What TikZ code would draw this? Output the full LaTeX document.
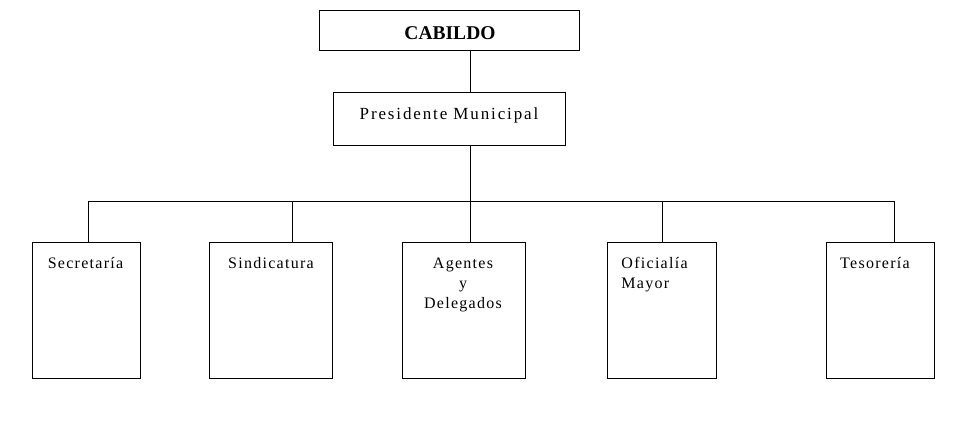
\documentclass[tikz,border=0pt]{standalone}
\usepackage{fontspec}
\setmainfont{Liberation Serif}[LetterSpace=8]
\usetikzlibrary{positioning}

\begin{document}
\begin{tikzpicture}[x=1pt, y=-1pt, line width=0.9pt,
	caja/.style={draw, inner sep=0pt, anchor=north west},
	rotulo/.style={inner sep=0pt, anchor=base, font=\fontsize{16}{20}\selectfont}]
					\useasboundingbox (0,0) rectangle (959,439);

					% arriba
					\node[caja, minimum width=260pt, minimum height=40pt] at (319,10) (cab) {};
					\node[caja, minimum width=232pt, minimum height=53pt] at (333,92) (pres) {};
					\node[inner sep=0pt, anchor=base, font=\fontsize{19.5}{20}\selectfont\bfseries\addfontfeature{LetterSpace=0}] at (450,39) (cabT) {CABILDO};
					\node[inner sep=0pt, anchor=base, font=\fontsize{17}{20}\selectfont\addfontfeature{LetterSpace=11}] at (449,119) (presT) {Presidente Municipal};

					% dependencias
					\node[caja, minimum width=108pt, minimum height=136pt] at (32,242) (secr) {};
					\node[caja, minimum width=123pt, minimum height=136pt] at (209,242) (sind) {};
					\node[caja, minimum width=123pt, minimum height=136pt] at (402,242) (agen) {};
					\node[caja, minimum width=109pt, minimum height=136pt] at (607,242) (ofic) {};
					\node[caja, minimum width=108pt, minimum height=136pt] at (826,242) (teso) {};

					\node[rotulo] at (85.5,268) (secrT) {Secretaría};
					\node[rotulo] at (271,268) (sindT) {Sindicatura};
					\node[rotulo, align=center] at (463,308) (agenT) {Agentes\\y\\Delegados};
					\node[rotulo, align=left, anchor=base west] at (621,288) (oficT) {Oficialía\\Mayor};
					\node[rotulo] at (875,268) (tesoT) {Tesorería};

					% lineas
					\coordinate (bus) at (470,201);
					\coordinate (busL) at (88,201);
					\coordinate (busR) at (894,201);
					\coordinate (dSind) at (292,201);
					\coordinate (dOfic) at (662,201);
					\draw (cab.south -| bus) -- (pres.north -| bus);
					\draw (pres.south -| bus) -- (bus);
					\draw (busL) -- (busR);
					\draw (busL) -- (busL |- secr.north);
					\draw (dSind) -- (dSind |- sind.north);
					\draw (bus) -- (bus |- agen.north);
					\draw (dOfic) -- (dOfic |- ofic.north);
					\draw (busR) -- (busR |- teso.north);
				\end{tikzpicture}
\end{document}
